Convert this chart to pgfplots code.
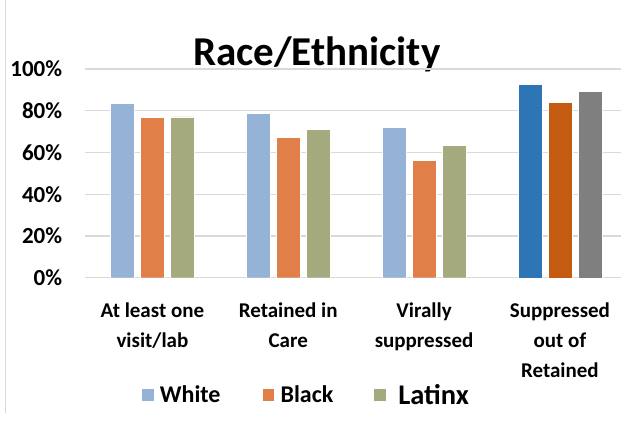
\documentclass[border=0pt]{standalone}
\usepackage{pgfplots}
\pgfplotsset{compat=1.18}
\usepackage{fontspec}
\setmainfont{Carlito}
\definecolor{cWhite}{HTML}{95B3D7}
\definecolor{cBlack}{HTML}{E07F47}
\definecolor{cLatinx}{HTML}{A5AA7E}
\definecolor{dWhite}{HTML}{2E75B6}
\definecolor{dBlack}{HTML}{C55A11}
\definecolor{dLatinx}{HTML}{7F7F7F}
\definecolor{gridc}{HTML}{D9D9D9}
\begin{document}
\begin{tikzpicture}
\path[use as bounding box] (0,0) rectangle (622bp,423bp);
\draw[gridc, line width=1bp] (5bp,423bp) -- (5bp,10bp);
\node[anchor=base, font=\fontsize{41bp}{48bp}\selectfont\bfseries, inner sep=0pt] at (316.7bp,357.3bp) {Race/Ethnicity};
\begin{axis}[
  at={(84.5bp,145.3bp)}, anchor=south west,
  scale only axis, width=536.5bp, height=208.7bp,
  xmin=-0.5, xmax=3.45, ymin=0, ymax=100,
  axis line style={draw=none},
  tick style={draw=none},
  ymajorgrids, grid style={gridc, line width=1.3bp},
  ytick={0,20,40,60,80,100},
  yticklabels={0\%,20\%,40\%,60\%,80\%,100\%},
  /pgf/number format/assume math mode=true,
  y tick label style={font=\fontsize{23bp}{26bp}\selectfont\bfseries, anchor=east, inner sep=0pt, xshift=-22.2bp},
  xtick={0,1,2,3},
  xticklabels={At least one\\visit/lab, Retained in\\Care, Virally\\suppressed, Suppressed\\out of\\Retained},
  x tick label style={font=\fontsize{21bp}{30bp}\selectfont\bfseries, align=center, anchor=north, inner sep=0pt, yshift=-25bp},
  legend style={at={(0.1048,-0.561)}, anchor=west, draw=none, fill=none, inner sep=0pt,
    legend columns=3, column sep=0pt,
    nodes={inner sep=0pt}},
  legend image code/.code={\fill[#1] (0bp,-6.3bp) rectangle (12.6bp,6.3bp);},
]
\addplot[ybar, bar width=23.7bp, bar shift=-30bp, fill=cWhite, draw=white, line width=0.4bp] coordinates {(0,83.6) (1,78.8) (2,71.9)};
\addlegendentry{\rule{6bp}{0pt}\fontsize{24bp}{28bp}\selectfont\bfseries White\rule{41bp}{0pt}}
\addplot[ybar, bar width=23.7bp, bar shift=0bp, fill=cBlack, draw=white, line width=0.4bp] coordinates {(0,76.7) (1,67.3) (2,56.3)};
\addlegendentry{\rule{6bp}{0pt}\fontsize{24bp}{28bp}\selectfont\bfseries Black\rule{40bp}{0pt}}
\addplot[ybar, bar width=23.7bp, bar shift=30bp, fill=cLatinx, draw=white, line width=0.4bp] coordinates {(0,77.1) (1,71.1) (2,63.5)};
\addlegendentry{\rule{12bp}{0pt}\fontsize{28.5bp}{30bp}\selectfont\bfseries Latinx}
\addplot[ybar, forget plot, bar width=23.7bp, bar shift=-30bp, fill=dWhite, draw=white, line width=0.4bp] coordinates {(3,92.5)};
\addplot[ybar, forget plot, bar width=23.7bp, bar shift=0bp, fill=dBlack, draw=white, line width=0.4bp] coordinates {(3,84.3)};
\addplot[ybar, forget plot, bar width=23.7bp, bar shift=30bp, fill=dLatinx, draw=white, line width=0.4bp] coordinates {(3,89.5)};
\end{axis}
\end{tikzpicture}
\end{document}
